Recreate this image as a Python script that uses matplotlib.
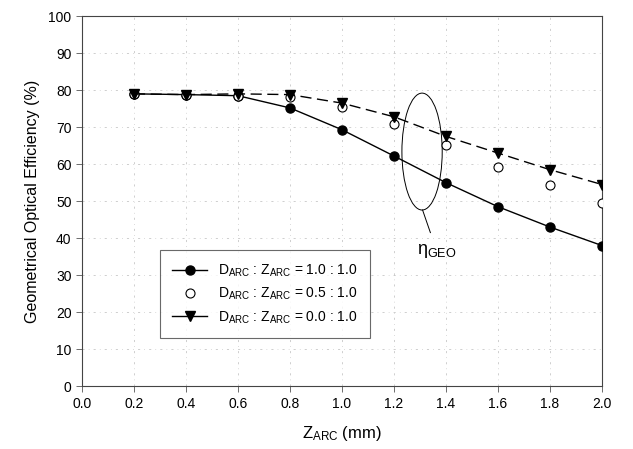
import numpy as np
import matplotlib.pyplot as plt
from matplotlib.patches import Ellipse
from matplotlib.lines import Line2D

plt.rcParams['font.family'] = 'Liberation Sans'
plt.rcParams['mathtext.fontset'] = 'custom'
plt.rcParams['mathtext.rm'] = 'Liberation Sans'
plt.rcParams['mathtext.it'] = 'Liberation Sans'

z_arc = [0.2, 0.4, 0.6, 0.8, 1.0, 1.2, 1.4, 1.6, 1.8, 2.0]
eff_10 = [79.0, 78.8, 78.5, 75.2, 69.3, 62.2, 55.0, 48.5, 43.0, 38.0]  # D:Z = 1.0:1.0
eff_05 = [79.0, 78.7, 78.5, 78.2, 75.5, 70.8, 65.2, 59.3, 54.5, 49.5]  # D:Z = 0.5:1.0
eff_00 = [79.0, 78.8, 79.0, 78.8, 76.5, 72.8, 67.5, 63.0, 58.5, 54.5]  # D:Z = 0.0:1.0

labels = [r'D$_{\mathrm{ARC}}$ : Z$_{\mathrm{ARC}}$ = 1.0 : 1.0',
          r'D$_{\mathrm{ARC}}$ : Z$_{\mathrm{ARC}}$ = 0.5 : 1.0',
          r'D$_{\mathrm{ARC}}$ : Z$_{\mathrm{ARC}}$ = 0.0 : 1.0']

fig = plt.figure(figsize=(6.33, 4.49), dpi=100)
ax = fig.add_axes([0.1295, 0.140, 0.8215, 0.824])

ax.plot(z_arc, eff_10, '-', color='black', lw=1.0, marker='o', ms=6.5, zorder=3)
ax.plot(z_arc, eff_05, 'o', mfc='white', mec='black', mew=0.8, ms=6.5, zorder=3)
ax.plot(z_arc, eff_00, color='black', lw=1.0, ls=(0, (8, 4)), marker='v', ms=6.5, zorder=3)

ax.set_xlim(0, 2.0)
ax.set_ylim(0, 100)
ax.set_xticks(np.arange(0, 2.01, 0.2))
ax.set_yticks(np.arange(0, 101, 10))
ax.set_xticklabels(['%.1f' % v for v in np.arange(0, 2.01, 0.2)])
ax.tick_params(direction='out', length=4, width=0.6, labelsize=10, color='#555555')
for s in ax.spines.values():
    s.set_linewidth(0.8)
    s.set_color('#444444')
ax.grid(True, color='#bbbbbb', lw=0.5, ls=(0, (3, 6, 1, 6)))
ax.set_axisbelow(True)

ax.set_xlabel(r'Z$_{\mathrm{ARC}}$ (mm)', fontsize=12, labelpad=10)
ax.set_ylabel('Geometrical Optical Efficiency (%)', fontsize=11.5, labelpad=6)

# annotation ellipse
ax.add_patch(Ellipse((1.308, 63.4), 0.155, 31.6, fill=False, ec='black', lw=0.7))
ax.plot([1.31, 1.34], [47.6, 41.5], color='black', lw=0.7)
ax.text(1.29, 36.5, r'$\eta_{\mathrm{GEO}}$', fontsize=13, ha='left', va='center')

handles = [Line2D([], [], color='black', lw=1.0, marker='o', ms=6.5),
           Line2D([], [], ls='none', marker='o', mfc='white', mec='black', mew=0.8, ms=6.5),
           Line2D([], [], color='black', lw=1.0, marker='v', ms=6.5)]
leg = ax.legend(handles, labels, loc='upper left', bbox_to_anchor=(0.150, 0.368),
                fontsize=10, frameon=True, fancybox=False, edgecolor='#444444',
                handlelength=2.5, borderpad=0.9, labelspacing=0.5, handletextpad=0.8,
                borderaxespad=0)
leg.get_frame().set_linewidth(0.8)

fig.savefig('out.png', dpi=100)
